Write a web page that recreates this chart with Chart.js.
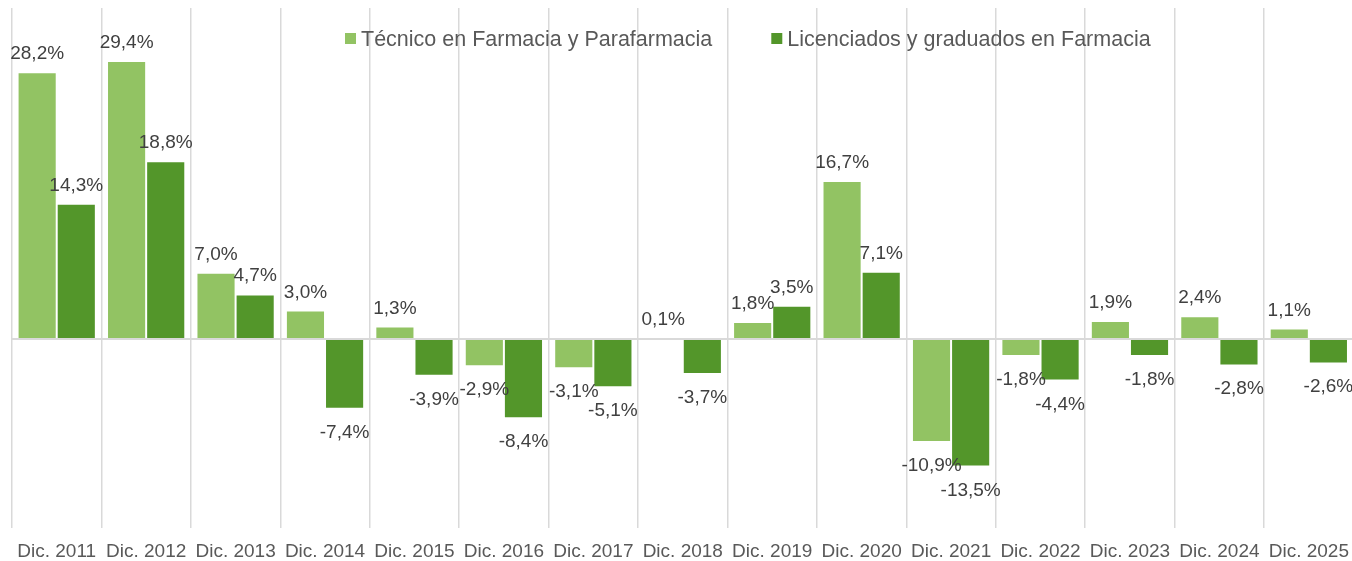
<!DOCTYPE html>
<html>
<head>
<meta charset="utf-8">
<script src="https://cdn.jsdelivr.net/npm/chart.js@4/dist/chart.umd.min.js"></script>
<style>
  html, body { margin: 0; padding: 0; background: #ffffff; overflow: hidden; width: 1352px; height: 561px; }
  canvas { display: block; }
</style>
</head>
<body>
<canvas id="c" width="1361" height="561"></canvas>
<script>
const categories = ['Dic. 2011','Dic. 2012','Dic. 2013','Dic. 2014','Dic. 2015','Dic. 2016','Dic. 2017','Dic. 2018','Dic. 2019','Dic. 2020','Dic. 2021','Dic. 2022','Dic. 2023','Dic. 2024','Dic. 2025'];
const seriesNames = ['Técnico en Farmacia y Parafarmacia', 'Licenciados y graduados en Farmacia'];
const tecnico = [28.2, 29.4, 7.0, 3.0, 1.3, -2.9, -3.1, 0.1, 1.8, 16.7, -10.9, -1.8, 1.9, 2.4, 1.1];
const licenciados = [14.3, 18.8, 4.7, -7.4, -3.9, -8.4, -5.1, -3.7, 3.5, 7.1, -13.5, -4.4, -1.8, -2.8, -2.6];
const colors = ['#92C363', '#53962A'];

const FONT = '"Liberation Sans", Arial, sans-serif';

const fmt = v => v.toFixed(1).replace('.', ',') + '%';

const dataLabels = {
  id: 'dataLabels',
  afterDatasetsDraw(chart) {
    const ctx = chart.ctx;
    ctx.save();
    ctx.font = '19px ' + FONT;
    ctx.fillStyle = '#404040';
    ctx.textAlign = 'center';
    ctx.textBaseline = 'alphabetic';
    chart.data.datasets.forEach((ds, di) => {
      const meta = chart.getDatasetMeta(di);
      meta.data.forEach((el, i) => {
        const v = ds.data[i];
        const y = v >= 0 ? Math.min(el.y, el.base) - 13 : Math.max(el.y, el.base) + 29;
        ctx.fillText(fmt(v), el.x, y);
      });
    });
    ctx.restore();
  }
};

const customLegend = {
  id: 'customLegend',
  afterDraw(chart) {
    const ctx = chart.ctx;
    ctx.save();
    ctx.font = '21.5px ' + FONT;
    ctx.textBaseline = 'alphabetic';
    ctx.textAlign = 'left';
    let x = chart.chartArea.left + 333;
    const baseY = 46;
    chart.data.datasets.forEach((ds, i) => {
      ctx.fillStyle = ds.backgroundColor;
      ctx.fillRect(x, 33, 11, 11);
      x += 16;
      ctx.fillStyle = '#595959';
      ctx.fillText(ds.label, x, baseY);
      x += ctx.measureText(ds.label).width + 59;
    });
    ctx.restore();
  }
};

new Chart(document.getElementById('c'), {
  type: 'bar',
  data: {
    labels: categories,
    datasets: [
      { label: seriesNames[0], data: tecnico, backgroundColor: colors[0], borderColor: 'rgba(255,255,255,0.45)', borderWidth: 1, minBarLength: 0 },
      { label: seriesNames[1], data: licenciados, backgroundColor: colors[1], borderColor: 'rgba(255,255,255,0.45)', borderWidth: 1 }
    ]
  },
  options: {
    responsive: false,
    devicePixelRatio: 1,
    animation: false,
    events: [],
    layout: { padding: { left: 12, right: 1, top: 8, bottom: 0 } },
    datasets: { bar: { categoryPercentage: 0.875, barPercentage: 1.0 } },
    plugins: { legend: { display: false }, tooltip: { enabled: false } },
    scales: {
      x: {
        offset: true,
        grid: { offset: true, color: '#d9d9d9', lineWidth: 1.5, drawTicks: false },
        border: { display: false },
        ticks: { color: '#595959', font: { family: FONT, size: 19 }, padding: 12, maxRotation: 0, autoSkip: false },
        afterFit(scale) { scale.height = 33; }
      },
      y: {
        min: -20,
        max: 35,
        grid: {
          drawTicks: false,
          color: c => (c.tick && c.tick.value === 0) ? '#d9d9d9' : 'rgba(0,0,0,0)',
          lineWidth: 2
        },
        border: { display: false },
        ticks: { display: false, stepSize: 5 },
        afterFit(scale) { scale.width = 0; }
      }
    }
  },
  plugins: [dataLabels, customLegend]
});
</script>
</body>
</html>
